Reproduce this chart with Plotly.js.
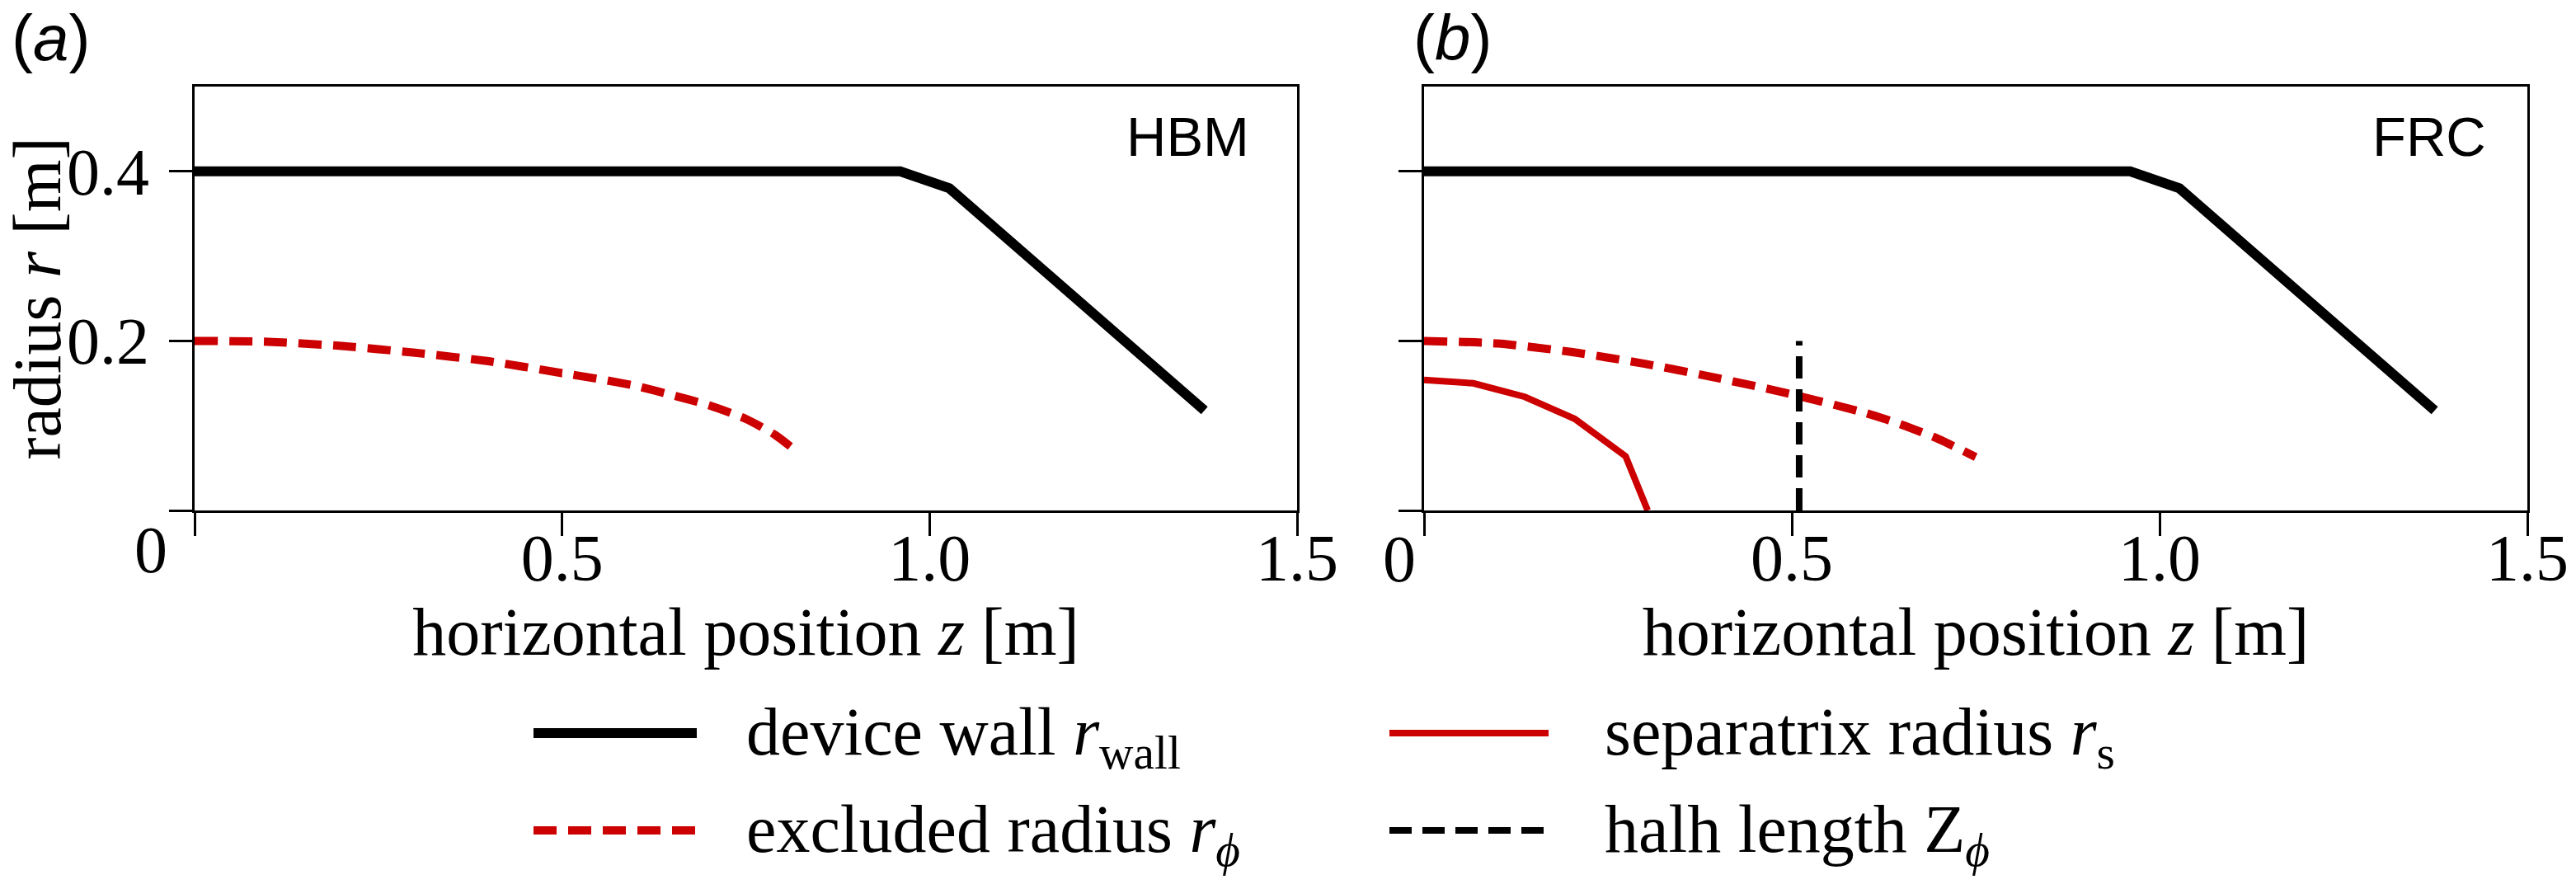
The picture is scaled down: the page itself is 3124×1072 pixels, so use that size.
<!DOCTYPE html>
<html>
<head>
<meta charset="utf-8">
<script src="https://cdn.plot.ly/plotly-3.0.1.min.js"></script>
<style>html,body{margin:0;padding:0;background:#fff;}</style>
</head>
<body>
<div id="chart" style="width:3124px;height:1072px;"></div>
<script>
// ---- data ----
const wallZ = [0, 0.96, 1.027, 1.374];
const wallR = [0.4, 0.4, 0.380, 0.118];

const exclZ_HBM = [0, 0.1, 0.2, 0.3, 0.4, 0.5, 0.55, 0.6, 0.65, 0.7, 0.75, 0.79, 0.82];
const exclR_HBM = [0.200, 0.199, 0.194, 0.186, 0.176, 0.162, 0.155, 0.147, 0.136, 0.124, 0.108, 0.089, 0.069];

const exclZ_FRC = [0, 0.1, 0.2, 0.3, 0.4, 0.5, 0.6, 0.65, 0.7, 0.75];
const exclR_FRC = [0.200, 0.197, 0.187, 0.173, 0.156, 0.137, 0.115, 0.101, 0.084, 0.063];

const sepZ = [0, 0.067, 0.137, 0.205, 0.274, 0.304];
const sepR = [0.154, 0.150, 0.134, 0.108, 0.064, 0];

const halfZ = [0.51, 0.51];
const halfR = [0, 0.2];

const xTickVals = [0, 0.5, 1.0, 1.5];
const xTickText = ['', '0.5', '1.0', '1.5'];
const yTickVals = [0, 0.2, 0.4];
const yTickText = ['', '0.2', '0.4'];

const panelLabels = ['(<i>a</i>)', '(<i>b</i>)'];
const panelNames = ['HBM', 'FRC'];
const legendLabels = [
  'device wall <i>r</i><sub>wall</sub>',
  'separatrix radius <i>r</i><sub>s</sub>',
  'excluded radius <i>r</i><sub><i>ϕ</i></sub>',
  'halh length Z<sub><i>ϕ</i></sub>'
];

// ---- styles ----
const RED = '#cc0000';
const SERIF = 'Liberation Serif, Times New Roman, serif';
const SANS = 'Liberation Sans, Arial, sans-serif';
const styles = {
  wall: {color: '#000', width: 12, dash: 'solid'},
  sep:  {color: RED, width: 8, dash: 'solid'},
  excl: {color: RED, width: 10, dash: '28px,14px'},
  half: {color: '#000', width: 8, dash: '27px,13px'}
};

const traces = [
  {x: wallZ, y: wallR, xaxis: 'x', yaxis: 'y', mode: 'lines', line: styles.wall, name: legendLabels[0], showlegend: false},
  {x: exclZ_HBM, y: exclR_HBM, xaxis: 'x', yaxis: 'y', mode: 'lines', line: Object.assign({shape: 'spline', smoothing: 0.6}, styles.excl), name: legendLabels[2], showlegend: false},
  {x: wallZ, y: wallR, xaxis: 'x2', yaxis: 'y2', mode: 'lines', line: styles.wall, name: legendLabels[0], showlegend: false},
  {x: exclZ_FRC, y: exclR_FRC, xaxis: 'x2', yaxis: 'y2', mode: 'lines', line: Object.assign({shape: 'spline', smoothing: 0.6}, styles.excl), name: legendLabels[2], showlegend: false},
  {x: sepZ, y: sepR, xaxis: 'x2', yaxis: 'y2', mode: 'lines', line: styles.sep, name: legendLabels[1], showlegend: false},
  {x: halfZ, y: halfR, xaxis: 'x2', yaxis: 'y2', mode: 'lines', line: styles.half, name: legendLabels[3], showlegend: false}
];

const W = 3124, H = 1072;
const px = v => v / W;
const py = v => 1 - v / H;

const axisCommon = {
  showline: true, linewidth: 3, linecolor: '#000', mirror: true,
  ticks: 'outside', ticklen: 28, tickwidth: 3, tickcolor: '#000',
  showgrid: false, zeroline: false, automargin: false, fixedrange: true,
  tickfont: {family: SERIF, size: 80, color: '#000'}
};
const xTitle = {text: 'horizontal position <i>z</i> [m]', font: {family: SERIF, size: 82, color: '#000'}, standoff: 0};

const layout = {
  width: W, height: H,
  margin: {l: 0, r: 0, t: 0, b: 0},
  paper_bgcolor: '#fff', plot_bgcolor: '#fff',
  showlegend: false,
  xaxis: Object.assign({}, axisCommon, {domain: [px(236), px(1573)], range: [0, 1.5], tickvals: xTickVals, ticktext: xTickText, ticklabelstandoff: -42, anchor: 'y', title: xTitle}),
  yaxis: Object.assign({}, axisCommon, {domain: [py(619), py(105)], range: [0, 0.5], tickvals: yTickVals, ticktext: yTickText, ticklabelstandoff: 8, anchor: 'x',
    title: {text: 'radius <i>r</i> [m]', font: {family: SERIF, size: 82, color: '#000'}, standoff: 4}}),
  xaxis2: Object.assign({}, axisCommon, {domain: [px(1727), px(3065)], range: [0, 1.5], tickvals: xTickVals, ticktext: xTickText, ticklabelstandoff: -42, anchor: 'y2', title: xTitle}),
  yaxis2: Object.assign({}, axisCommon, {domain: [py(619), py(105)], range: [0, 0.5], tickvals: yTickVals, showticklabels: false, anchor: 'x2'}),
  annotations: [],
  shapes: []
};

// corner "0" labels
layout.annotations.push({xref: 'x', yref: 'paper', x: 0, y: py(667), xshift: -53, text: '0', showarrow: false, xanchor: 'center', yanchor: 'middle', font: {family: SERIF, size: 80, color: '#000'}});
layout.annotations.push({xref: 'x2', yref: 'paper', x: 0, y: py(678), xshift: -30, text: '0', showarrow: false, xanchor: 'center', yanchor: 'middle', font: {family: SERIF, size: 80, color: '#000'}});

// panel labels and names
[[12, 1517], [1712, 3017]].forEach((p, i) => {
  layout.annotations.push({xref: 'paper', yref: 'paper', x: px(p[0]), y: 1, text: panelLabels[i], showarrow: false, xanchor: 'left', yanchor: 'top', font: {family: SANS, size: 78, color: '#000'}});
  layout.annotations.push({xref: 'paper', yref: 'paper', x: px(p[1]), y: py(126), text: panelNames[i], showarrow: false, xanchor: 'right', yanchor: 'top', font: {family: SANS, size: 67, color: '#000'}});
});

// legend (2 x 2) drawn with the trace styles
const legItems = [
  {st: styles.wall, label: legendLabels[0], col: 0, row: 0},
  {st: styles.sep,  label: legendLabels[1], col: 1, row: 0},
  {st: styles.excl, label: legendLabels[2], col: 0, row: 1},
  {st: styles.half, label: legendLabels[3], col: 1, row: 1}
];
const colX = [[647, 845, 903], [1685, 1878, 1944]];
const rowY = [889, 1007];
legItems.forEach(it => {
  const c = colX[it.col], y = py(rowY[it.row]);
  layout.shapes.push({type: 'line', xref: 'paper', yref: 'paper', x0: px(c[0]), x1: px(c[1]), y0: y, y1: y,
    line: {color: it.st.color, width: it.st.width, dash: it.st.dash}});
  layout.annotations.push({xref: 'paper', yref: 'paper', x: px(c[2]), y: y, yshift: -4, text: it.label, showarrow: false,
    xanchor: 'left', yanchor: 'middle', font: {family: SERIF, size: 82, color: '#000'}});
});

Plotly.newPlot('chart', traces, layout, {staticPlot: true, displayModeBar: false});
</script>
</body>
</html>
